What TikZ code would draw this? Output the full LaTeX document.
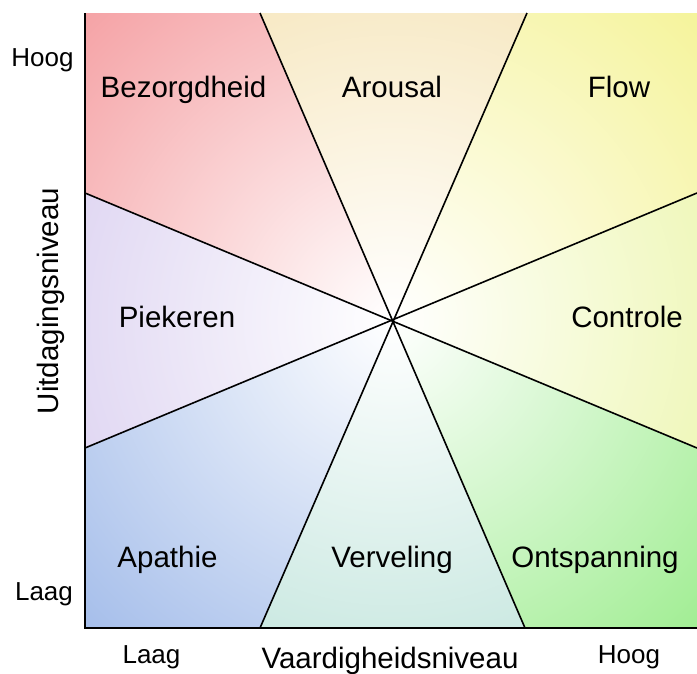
\documentclass[tikz,border=0pt]{standalone}
\usepackage{fontspec}
\setmainfont{Liberation Sans}
\definecolor{cBez}{HTML}{F2868A}
\definecolor{cAro}{HTML}{F2DA9C}
\definecolor{cFlo}{HTML}{F2F07C}
\definecolor{cCon}{HTML}{E4F28A}
\definecolor{cOnt}{HTML}{84E872}
\definecolor{cVer}{HTML}{A8DACE}
\definecolor{cApa}{HTML}{8AAAE4}
\definecolor{cPie}{HTML}{CBBCEA}
\tikzset{
  regionlabel/.style={anchor=base, inner sep=0pt, font=\fontsize{29.5}{30}\selectfont},
  ticklabel/.style={anchor=base, inner sep=0pt, font=\fontsize{26}{27}\selectfont},
  axistitle/.style={anchor=base, inner sep=0pt, font=\fontsize{29.5}{30}\selectfont},
  divider/.style={line width=1.6pt, black},
  axisline/.style={line width=2.6pt, black},
}
\newcommand{\regionfill}[2]{%
  \begin{scope}
    \clip #1;
    \shade[inner color=white, outer color=#2] (C) circle (570);
  \end{scope}}
\begin{document}
\begin{tikzpicture}[x=1pt, y=-1pt]
\useasboundingbox (0,0) rectangle (697,673);
\fill[white] (0,0) rectangle (697,673);
% key points
\coordinate (C) at (392,320);
\coordinate (TL) at (85,13);
\coordinate (TR) at (697,13);
\coordinate (BL) at (85,628);
\coordinate (BR) at (697,628);
\coordinate (T1) at (260,13);
\coordinate (T2) at (527,13);
\coordinate (B1) at (260,628);
\coordinate (B2) at (525,628);
\coordinate (L1) at (85,193);
\coordinate (L2) at (85,448);
\coordinate (R1) at (697,193);
\coordinate (R2) at (697,448);
% regions
\regionfill{(TL) -- (T1) -- (C) -- (L1) -- cycle}{cBez}
\regionfill{(T1) -- (T2) -- (C) -- cycle}{cAro}
\regionfill{(T2) -- (TR) -- (R1) -- (C) -- cycle}{cFlo}
\regionfill{(R1) -- (R2) -- (C) -- cycle}{cCon}
\regionfill{(R2) -- (BR) -- (B2) -- (C) -- cycle}{cOnt}
\regionfill{(B2) -- (B1) -- (C) -- cycle}{cVer}
\regionfill{(B1) -- (BL) -- (L2) -- (C) -- cycle}{cApa}
\regionfill{(L2) -- (L1) -- (C) -- cycle}{cPie}
% dividers
\draw[divider] (T1) -- (B2);
\draw[divider] (T2) -- (B1);
\draw[divider] (L1) -- (R2);
\draw[divider] (L2) -- (R1);
% axes
\draw[axisline] (TL) -- (BL) -- (BR);
% region labels
\node[regionlabel] (bez) at (183.5,97) {Bezorgdheid};
\node[regionlabel] (aro) at (392,97) {Arousal};
\node[regionlabel] (flo) at (619,97) {Flow};
\node[regionlabel] (pie) at (177,327) {Piekeren};
\node[regionlabel] (con) at (627,327) {Controle};
\node[regionlabel] (apa) at (167.5,567) {Apathie};
\node[regionlabel] (ver) at (392,567) {Verveling};
\node[regionlabel] (ont) at (595,567) {Ontspanning};
% axis labels
\node[ticklabel] (yhi) at (42.5,66) {Hoog};
\node[ticklabel] (ylo) at (44,600) {Laag};
\node[ticklabel] (xlo) at (151.5,663) {Laag};
\node[ticklabel] (xhi) at (629,663) {Hoog};
\node[axistitle] (xt) at (390,668) {Vaardigheidsniveau};
\node[axistitle, rotate=90, anchor=center] (yt) at (51,301) {Uitdagingsniveau};
\end{tikzpicture}
\end{document}
